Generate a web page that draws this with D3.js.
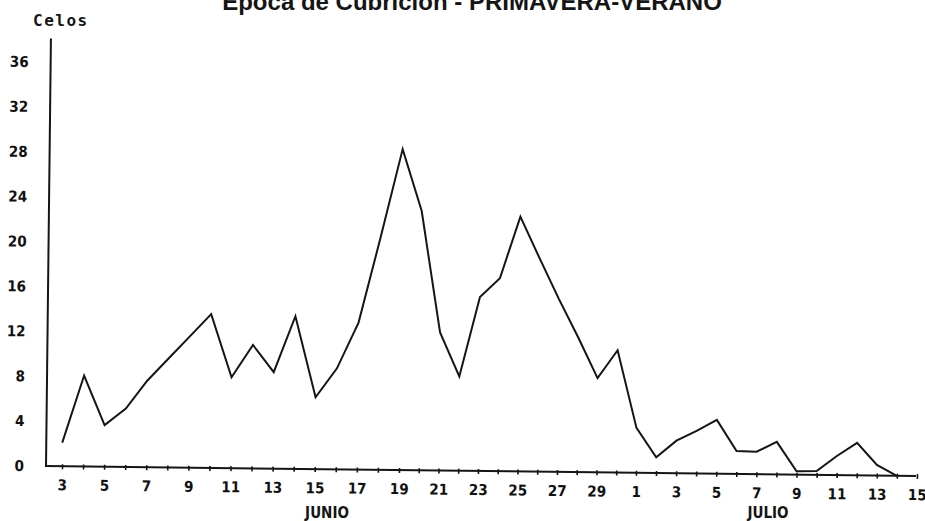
<!DOCTYPE html>
<html>
<head>
<meta charset="utf-8">
<script src="https://cdn.jsdelivr.net/npm/d3@7"></script>
<style>
  html, body { margin: 0; padding: 0; background: #fff; }
  svg { display: block; }
  .tick text { font-family: "DejaVu Sans Condensed", "DejaVu Sans", sans-serif; font-weight: bold; font-size: 15px; fill: #111; }
</style>
</head>
<body>
<svg id="chart" width="925" height="521"></svg>
<script>
// Días del período de cubrición (junio 3 – julio 15)
const dias = ["3","4","5","6","7","8","9","10","11","12","13","14","15","16","17","18","19","20",
              "21","22","23","24","25","26","27","28","29","30",
              "1","2","3","4","5","6","7","8","9","10","11","12","13","14","15"];

// Número de celos registrados cada día
const celos = [2.1, 8.1, 3.7, 5.2, 7.7, 9.7, 11.7, 13.7, 8.1, 11.0, 8.6, 13.6, 6.4, 9.0, 13.1,
               20.7, 28.6, 23.1, 12.3, 8.4, 15.5, 17.2, 22.7, 19.0, 15.4, 12.0, 8.4, 10.9,
               4.0, 1.4, 2.9, 3.8, 4.8, 2.05, 2.0, 2.9, 0.3, 0.35, 1.7, 2.9, 0.95, 0];

// Marcas del eje vertical
const yTicks = [0, 4, 8, 12, 16, 20, 24, 28, 32, 36];

// Meses bajo el eje horizontal
const meses = ["JUNIO", "JULIO"];

const titulo = "Época de Cubrición - PRIMAVERA-VERANO";
const yTitulo = "Celos";

const svg = d3.select("#chart");
svg.append("rect").attr("width", 925).attr("height", 521).attr("fill", "#fff");

const ox = 46, oy = 466;           // origen de los ejes
const ink = "#151515";

// La hoja impresa está ligeramente girada: todo el gráfico se dibuja en un grupo rotado
const g = svg.append("g").attr("transform", `rotate(0.66, ${ox}, ${oy})`);

// El eje de días del original no está espaciado de forma uniforme; una escala por tramos lo sigue
const x = d3.scaleLinear().domain([0, 16, 28, 42]).range([62, 399, 636, 917]);
const y = d3.scaleLinear().domain([0, 36]).range([oy, 62]);

// Eje vertical
g.append("line")
  .attr("x1", ox).attr("x2", ox)
  .attr("y1", oy + 1).attr("y2", y(38.1))
  .attr("stroke", ink).attr("stroke-width", 2);

const yAxis = g.append("g")
  .attr("transform", `translate(${ox},0)`)
  .call(d3.axisLeft(y).tickValues(yTicks).tickSize(0).tickPadding(22).tickFormat(d3.format("d")));
yAxis.select(".domain").remove();

// Eje horizontal
g.append("line")
  .attr("x1", ox).attr("x2", 916)
  .attr("y1", oy).attr("y2", oy)
  .attr("stroke", ink).attr("stroke-width", 2);

const xAxis = g.append("g")
  .attr("transform", `translate(0,${oy})`)
  .call(d3.axisBottom(x)
    .tickValues(d3.range(dias.length))
    .tickFormat(i => (i % 2 === 0 ? dias[i] : "")));
xAxis.select(".domain").remove();
xAxis.selectAll(".tick line")
  .attr("y1", -2).attr("y2", 3)
  .attr("stroke", ink).attr("stroke-width", 1.6);
xAxis.selectAll(".tick text").attr("y", 13.5);

// Serie de celos
const line = d3.line()
  .x((d, i) => x(i))
  .y(d => y(d));

g.append("path")
  .datum(celos)
  .attr("d", line)
  .attr("fill", "none")
  .attr("stroke", ink)
  .attr("stroke-width", 2)
  .attr("stroke-linejoin", "miter");

// Título (cortado por el borde superior)
svg.append("text")
  .attr("x", 472).attr("y", 10)
  .attr("text-anchor", "middle")
  .attr("font-family", "'Liberation Sans', Arial, sans-serif")
  .attr("font-weight", "bold")
  .attr("font-size", 24)
  .attr("fill", ink)
  .text(titulo);

// Rótulo del eje vertical
svg.append("text")
  .attr("x", 33).attr("y", 26)
  .attr("font-family", "'DejaVu Sans Mono', monospace")
  .attr("font-weight", "bold")
  .attr("font-size", 16)
  .attr("letter-spacing", "1.5px")
  .attr("fill", ink)
  .text(yTitulo);

// Rótulos de los meses
const mesX = [327, 768];
svg.selectAll("text.mes")
  .data(meses)
  .enter().append("text")
  .attr("class", "mes")
  .attr("x", (d, i) => mesX[i])
  .attr("y", 518)
  .attr("text-anchor", "middle")
  .attr("font-family", "'DejaVu Sans Condensed', 'DejaVu Sans', sans-serif")
  .attr("font-weight", "bold")
  .attr("font-size", 15)
  .attr("fill", ink)
  .text(d => d);
</script>
</body>
</html>
